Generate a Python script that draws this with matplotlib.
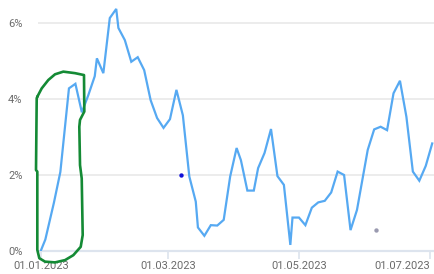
import matplotlib
matplotlib.use("Agg")
import matplotlib.pyplot as plt
import matplotlib.transforms as mtransforms
import pandas as pd

# ---- data ----
dates = ["2023-01-01", "2023-01-03", "2023-01-07", "2023-01-10", "2023-01-14", "2023-01-17",
         "2023-01-20", "2023-01-23", "2023-01-26", "2023-01-27", "2023-01-30", "2023-02-02",
         "2023-02-05", "2023-02-06", "2023-02-09", "2023-02-12", "2023-02-15", "2023-02-18",
         "2023-02-21", "2023-02-24", "2023-02-27", "2023-03-02", "2023-03-05", "2023-03-08",
         "2023-03-11", "2023-03-14", "2023-03-15", "2023-03-18", "2023-03-21", "2023-03-24",
         "2023-03-27", "2023-03-30", "2023-04-02", "2023-04-04", "2023-04-07", "2023-04-10",
         "2023-04-12", "2023-04-15", "2023-04-18", "2023-04-21", "2023-04-24", "2023-04-27",
         "2023-04-28", "2023-05-01", "2023-05-04", "2023-05-07", "2023-05-10", "2023-05-13",
         "2023-05-16", "2023-05-19", "2023-05-22", "2023-05-25", "2023-05-28", "2023-06-02",
         "2023-06-05", "2023-06-08", "2023-06-11", "2023-06-14", "2023-06-17", "2023-06-20",
         "2023-06-23", "2023-06-26", "2023-06-29", "2023-07-02"]
values = [0.02, 0.30, 1.27, 2.08, 4.28, 4.40,
          3.65, 4.10, 4.60, 5.07, 4.68, 6.13,
          6.37, 5.87, 5.55, 4.98, 5.10, 4.76,
          3.97, 3.50, 3.24, 3.47, 4.24, 3.57,
          1.96, 1.30, 0.62, 0.40, 0.68, 0.67,
          0.82, 1.96, 2.71, 2.39, 1.59, 1.59,
          2.18, 2.58, 3.21, 1.97, 1.74, 0.16,
          0.88, 0.88, 0.68, 1.14, 1.28, 1.32,
          1.54, 2.09, 2.00, 0.55, 1.08, 2.66,
          3.20, 3.27, 3.18, 4.15, 4.48, 3.53,
          2.09, 1.85, 2.24, 2.83]

marker_blue_date = "2023-03-07"
marker_blue_value = 2.0
marker_grey_date = "2023-06-06"
marker_grey_value = 0.55

yticks = [0, 2, 4, 6]
ytick_labels = ["0%", "2%", "4%", "6%"]
xtick_dates = ["2023-01-01", "2023-03-01", "2023-05-01", "2023-07-01"]
xtick_labels = ["01.01.2023", "01.03.2023", "01.05.2023", "01.07.2023"]

# hand-drawn green outline (days from 01.01.2023, percent)
outline_days = [-1.72, 0.33, 3.40, 6.51, 10.38, 15.82, 20.0, 20.15, 18.15, 17.82, 18.15,
                18.94, 19.4, 18.47, 15.03, 11.17, 6.51, 1.86, -0.79, -1.72, -1.72, -2.33,
                -2.0, -1.72]
outline_vals = [4.06, 4.28, 4.50, 4.65, 4.72, 4.68, 4.63, 3.67, 3.45, 3.27, 2.26,
                1.91, 0.42, 0.11, -0.11, -0.24, -0.30, -0.28, -0.19, 0.03, 2.09, 2.13,
                4.02, 4.06]

# ---- plot ----
plt.rcParams["font.family"] = ["Roboto", "DejaVu Sans"]
fig = plt.figure(figsize=(4.35, 2.74), dpi=100)
ax = fig.add_axes([38 / 435, 23 / 274, 1 - 38 / 435, 1 - 23 / 274])

x = pd.to_datetime(dates)
ax.plot(x, values, color="#56a9f2", lw=1.6, solid_joinstyle="miter", zorder=3)

ax.scatter(pd.to_datetime([marker_blue_date]), [marker_blue_value], s=10, color="#1010d8", zorder=4, lw=0)
ax.scatter(pd.to_datetime([marker_grey_date]), [marker_grey_value], s=10, color="#9a9ab0", zorder=4, lw=0)

base = pd.Timestamp("2023-01-01")
ox = [base + pd.Timedelta(days=d) for d in outline_days]
ax.plot(ox, outline_vals, color="#148a35", lw=1.9, clip_on=False, zorder=5,
        solid_joinstyle="round", solid_capstyle="round")

ax.set_ylim(0, 251 / 38)
ax.set_xlim(base - pd.Timedelta(days=1.4), base + pd.Timedelta(days=183.3))

ax.set_yticks(yticks)
ax.set_yticklabels(ytick_labels)
ax.set_xticks(pd.to_datetime(xtick_dates))
ax.set_xticklabels(xtick_labels)
last = ax.get_xticklabels()[-1]
last.set_horizontalalignment("right")
last.set_transform(last.get_transform() + mtransforms.ScaledTranslation(3 / 100, 0, fig.dpi_scale_trans))

ax.grid(axis="y", color="#ebebeb", lw=1.3)
ax.set_axisbelow(True)
for s in ["top", "right", "left"]:
    ax.spines[s].set_visible(False)
ax.spines["bottom"].set_color("#dde4ee")
ax.spines["bottom"].set_linewidth(1.6)

ax.tick_params(axis="y", length=0, pad=11, labelsize=8, labelcolor="#6b6b6b")
ax.tick_params(axis="x", length=6, width=1.2, color="#dde4ee", pad=1, labelsize=8, labelcolor="#6b6b6b")

fig.savefig("out.png", dpi=100)
